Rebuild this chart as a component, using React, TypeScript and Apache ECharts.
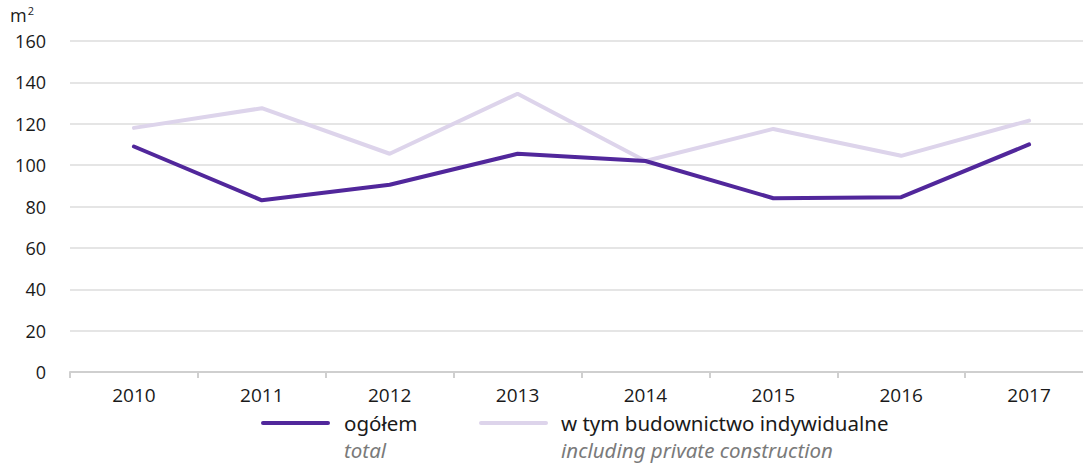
import React, { useEffect, useRef } from "react";
import * as echarts from "echarts";

const years = ["2010", "2011", "2012", "2013", "2014", "2015", "2016", "2017"];
const total = [109, 83, 90.5, 105.5, 102, 84, 84.5, 110];
const privateConstr = [118, 127.5, 105.5, 134.5, 102, 117.5, 104.5, 121.5];
const seriesNames = ["ogółem", "w tym budownictwo indywidualne"];
const seriesSubNames = ["total", "including private construction"];
const colors = ["#51279b", "#ddd4eb"];
const yTicks = { min: 0, max: 160, interval: 20 };

export default function App() {
  const ref = useRef<HTMLDivElement>(null);
  useEffect(() => {
    if (!ref.current) return;
    const chart = echarts.init(ref.current, undefined, { renderer: "svg" });
    const font = "'Open Sans', 'Noto Sans', sans-serif";
    const lfont = "'Noto Sans', 'Open Sans', sans-serif";
    chart.setOption({
      animation: false,
      textStyle: { fontFamily: font },
      grid: { left: 70, right: 0, top: 41, bottom: 91 },
      xAxis: {
        type: "category",
        data: years,
        boundaryGap: true,
        axisLine: { lineStyle: { color: "#cfcfcf", width: 2 } },
        axisTick: { show: true, length: 6, lineStyle: { color: "#cfcfcf", width: 2 } },
        axisLabel: { color: "#1a1a1a", fontSize: 19, margin: 13, fontFamily: font },
      },
      yAxis: {
        type: "value",
        min: yTicks.min,
        max: yTicks.max,
        interval: yTicks.interval,
        axisLine: { show: false },
        axisTick: { show: false },
        axisLabel: { color: "#1a1a1a", fontSize: 18, margin: 24, fontFamily: font },
        splitLine: { lineStyle: { color: "#dcdcdc", width: 1.5 } },
      },
      series: [
        {
          name: seriesNames[0],
          type: "line",
          data: total,
          symbol: "none",
          lineStyle: { color: colors[0], width: 4, cap: "round" },
          z: 3,
        },
        {
          name: seriesNames[1],
          type: "line",
          data: privateConstr,
          symbol: "none",
          lineStyle: { color: colors[1], width: 4, cap: "round" },
          z: 2,
        },
      ],
      graphic: [
        {
          type: "text",
          x: 10,
          y: 5,
          style: {
            text: "m{sup|2}",
            fontSize: 18,
            fill: "#1a1a1a",
            fontFamily: font,
            rich: { sup: { fontSize: 11, verticalAlign: "top", padding: [0, 0, 8, 1], fill: "#1a1a1a", fontFamily: font } },
          },
        },
        {
          type: "line",
          shape: { x1: 263, y1: 423, x2: 328, y2: 423 },
          style: { stroke: colors[0], lineWidth: 4, lineCap: "round" },
        },
        {
          type: "text",
          x: 344,
          y: 423,
          style: { text: seriesNames[0], fontSize: 20.5, fill: "#1a1a1a", fontFamily: lfont, verticalAlign: "middle" },
        },
        {
          type: "text",
          x: 344,
          y: 450,
          style: { text: seriesSubNames[0], fontSize: 20.5, fill: "#7a7a7a", fontStyle: "italic", fontFamily: lfont, verticalAlign: "middle" },
        },
        {
          type: "line",
          shape: { x1: 481, y1: 423, x2: 546, y2: 423 },
          style: { stroke: colors[1], lineWidth: 4, lineCap: "round" },
        },
        {
          type: "text",
          x: 561,
          y: 423,
          style: { text: seriesNames[1], fontSize: 20.5, fill: "#1a1a1a", fontFamily: lfont, verticalAlign: "middle" },
        },
        {
          type: "text",
          x: 561,
          y: 450,
          style: { text: seriesSubNames[1], fontSize: 20.5, fill: "#7a7a7a", fontStyle: "italic", fontFamily: lfont, verticalAlign: "middle" },
        },
      ],
    });
    return () => chart.dispose();
  }, []);
  return (
    <div style={{ position: "fixed", left: 0, top: 0, width: 1083, height: 463, overflow: "hidden", background: "#fff" }}>
      <div ref={ref} style={{ width: 1093, height: 463 }} />
    </div>
  );
}
